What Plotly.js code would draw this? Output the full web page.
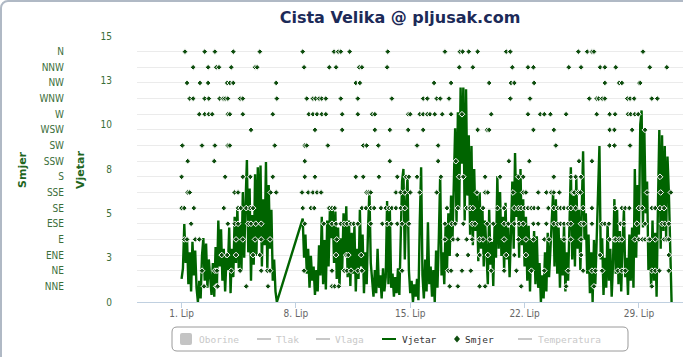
<!DOCTYPE html>
<html><head><meta charset="utf-8">
<script src="https://cdn.plot.ly/plotly-3.0.1.min.js"></script>
<style>
html,body{margin:0;padding:0;background:#fff;overflow:hidden}
#wrap{position:relative;width:683px;height:357px;overflow:hidden}
#chart{width:683px;height:357px}
#frame{position:absolute;left:0;top:0;width:720px;height:380px;border:2px solid #b0b9c5;border-radius:8px;box-sizing:border-box;pointer-events:none}
</style></head><body>
<div id="wrap"><div id="chart"></div><div id="frame"></div></div>
<script>
// ---- data ----
const monthStart = Date.UTC(2013, 5, 1);   // 1. lipanj 00:00
const stepHours = 2;
const windAStartHour = 0;     // 1. Lip 00:00
const windBStartHour = 178;   // 8. Lip 10:00

const windA = [1.3,1.9,4.4,2.2,3.6,1.0,2.8,0.6,3.4,1.5,
  2.9,0.8,0.0,1.2,0.2,2.6,3.6,1.2,3.3,0.8,
  2.4,1.6,0.4,2.2,0.3,3.1,1.0,4.6,2.0,4.1,
  1.2,3.0,0.6,2.5,1.8,4.2,0.5,3.0,1.4,4.8,
  2.2,5.3,1.9,4.5,1.8,6.2,2.5,5.6,8.0,2.8,
  6.4,1.2,4.9,2.1,7.2,2.6,7.6,3.5,7.7,2.0,
  5.8,3.2,7.9,1.8,6.6,3.0,5.2,1.2,2.4,0.6,0.0];

const windB = [4.7,2.5,3.8,1.6,3.0,0.8,2.6,1.2,2.0,0.4,1.8,0.6,3.2,
  1.5,4.8,1.0,3.5,0.7,4.6,2.0,5.3,3.6,5.4,2.2,5.1,1.3,4.2,0.8,3.6,1.8,5.0,2.6,5.4,1.4,4.6,0.9,3.9,
  1.6,4.3,0.6,3.0,1.3,5.2,2.0,3.8,0.5,2.8,1.0,4.1,6.3,2.2,
  1.2,0.3,1.8,0.5,3.0,0.8,1.5,0.2,1.9,0.6,1.4,
  5.7,1.0,5.3,0.8,1.6,0.3,1.4,0.5,1.9,0.4,
  3.0,6.8,7.5,2.4,5.5,7.1,1.8,0.5,
  1.2,0.0,1.0,0.3,1.3,0.1,4.5,7.6,
  1.5,0.2,2.4,0.6,4.5,1.0,2.0,
  0.3,1.8,0.0,2.9,0.8,3.6,7.1,1.5,2.8,
  1.0,4.4,1.8,5.0,2.6,6.0,3.4,
  6.6,9.8,4.5,10.7,5.2,12.1,7.8,12.1,
  4.6,12.0,6.0,9.4,3.8,
  8.8,3.2,7.5,4.0,6.0,
  2.3,6.2,3.0,5.4,2.0,4.6,2.8,
  1.0,5.2,2.1,3.4,0.9,4.5,2.5,7.1,3.0,6.2,2.6,
  4.8,1.8,5.6,2.4,4.2,1.4,3.9,
  6.8,3.0,8.4,4.8,7.2,
  2.5,7.5,3.2,5.8,2.0,
  4.8,1.2,4.3,0.6,3.6,1.8,4.0,
  1.0,3.7,0.8,2.2,0.0,1.5,0.2,
  2.8,0.6,3.9,1.4,3.0,
  4.4,6.2,2.0,5.8,1.6,
  4.2,0.8,3.6,1.5,4.4,0.6,2.8,1.2,
  5.2,7.6,2.4,
  6.0,2.0,7.1,3.0,5.2,1.8,
  5.8,8.5,3.5,
  5.0,1.6,3.8,0.5,2.8,0.0,3.5,1.0,3.2,6.0,8.8,2.4,
  3.6,0.4,2.5,0.8,4.5,1.2,3.0,0.3,2.2,5.8,1.6,5.2,
  1.0,4.0,0.6,3.3,5.2,1.4,2.5,0.4,3.8,1.2,4.2,0.8,
  7.5,2.5,6.6,3.8,10.0,10.8,4.2,9.7,5.0,6.8,1.8,3.5,
  0.8,4.6,1.2,3.9,0.3,
  5.5,9.7,3.0,9.4,4.0,8.8,3.6,8.2,6.2,
  2.0,0.0];

// wind direction readings: hours since 1. Lip 00:00, grouped by direction
const smjerNNE = [33,51,53,95,127,221,225,231,394,406,438,446,499,565,606,691];
const smjerNE  = [30,49,52,73,86,117,126,130,180,221,239,243,249,259,265,324,392,396,412,425,455,474,492,514,533,568,590,603,608,618,641,647,652,691,696,702,716];
const smjerENE = [59,67,80,105,115,227,242,245,264,405,421,438,450,477,489,506,587,615,716];
const smjerE   = [4,8,20,26,80,90,108,117,130,228,387,399,406,419,427,438,443,453,474,495,506,517,533,540,562,572,587,629,636,638,643,647,666,672,677,681,686,688,696,709,713,716];
const smjerESE = [14,68,78,83,98,102,109,117,181,209,221,227,234,239,243,249,253,259,278,295,302,308,317,324,334,387,397,402,414,427,431,449,458,474,480,489,496,502,517,524,536,547,553,557,562,568,572,587,591,603,618,622,628,645,650,669,681,706,710,716];
const smjerSE  = [0,4,18,62,83,87,95,101,105,178,190,195,217,221,225,265,271,278,283,293,300,305,309,315,322,328,390,406,419,424,428,443,464,474,489,495,499,504,509,514,518,524,539,547,553,557,562,568,572,579,590,603,637,647,652,658,672,677,691,696,703,709];
const smjerSSE = [9,12,78,83,131,139,177,186,193,199,205,272,275,278,315,322,328,336,350,375,434,446,450,487,502,506,524,536,543,547,555,575,577,583,586,684,704,719];
const smjerS   = [0,64,90,101,134,181,196,256,267,290,317,330,334,346,381,408,414,446,468,495,502,546,547,572,579,587,703];
const smjerSSW = [9,48,181,306,377,403,481,511,584,603];
const smjerSW  = [1,30,49,68,71,137,181,184,215,267,272,289,346,377,550,629,636,659];
const smjerWSW = [102,196,236,284,306,333,355,435,449,452,517,547,629,636,662,681];
const smjerW   = [26,34,40,45,68,71,90,134,187,193,199,206,212,236,259,280,284,333,336,350,355,361,365,372,383,396,412,455,509,527,533,542,565,610,629,637,656,660,666,671];
const smjerWNW = [12,17,34,40,56,61,64,68,86,90,140,184,193,197,202,206,212,234,259,309,355,361,375,380,393,483,512,599,610,613,618,622,655,659,665,691,699];
const smjerNW  = [8,27,39,67,71,76,139,256,262,371,396,452,484,489,518,622,643,647,672,674];
const smjerNNW = [17,39,51,55,73,108,111,180,217,227,261,265,302,408,428,486,509,517,569,587,615,622,638,688,713];
const smjerN   = [5,34,49,76,115,178,224,230,234,247,303,387,409,413,422,435,477,483,583,596,603,606,678];

const dirLabels = ['NNE','NE','ENE','E','ESE','SE','SSE','S','SSW','SW','WSW','W','WNW','NW','NNW','N'];
const dirDegrees = [22.5,45,67.5,90,112.5,135,157.5,180,202.5,225,247.5,270,292.5,315,337.5,360];
const dirGroups = [smjerNNE,smjerNE,smjerENE,smjerE,smjerESE,smjerSE,smjerSSE,smjerS,smjerSSW,smjerSW,smjerWSW,smjerW,smjerWNW,smjerNW,smjerNNW,smjerN];

const windTickVals = [0,2.5,5,7.5,10,12.5,15];
const windTickText = ['0','3','5','8','10','13','15'];
const dateTickDays = [1,8,15,22,29];
const dateTickText = ['1. Lip','8. Lip','15. Lip','22. Lip','29. Lip'];
const legendNames = ['Oborine','Tlak','Vlaga','Vjetar','Smjer','Temperatura'];

// ---- build ----
const H = 3600e3;
const windX = [], windY = [];
windA.forEach((v,i)=>{ windX.push(monthStart + (windAStartHour + i*stepHours)*H); windY.push(v); });
windB.forEach((v,i)=>{ windX.push(monthStart + (windBStartHour + i*stepHours)*H); windY.push(v); });

const dirX = [], dirY = [];
dirGroups.forEach((arr,k)=>arr.forEach(h=>{ dirX.push(monthStart + h*H); dirY.push(dirDegrees[k]); }));

const green = '#006400';
const traces = [
  {type:'scatter', mode:'lines', x:windX, y:windY, yaxis:'y', name:'Vjetar',
   line:{color:green, width:2.4}, hoverinfo:'skip', showlegend:false},
  {type:'scatter', mode:'markers', x:dirX, y:dirY, yaxis:'y2', name:'Smjer',
   marker:{symbol:'diamond', size:4.4, color:'#0e4d0e', line:{color:'#ffffff', width:1}},
   hoverinfo:'skip', showlegend:false}
];

// pixel -> paper helpers for the hand-drawn legend
const PL=137, PW=546, PB=302, PH=266;
const fx = p => (p-PL)/PW, fy = p => (PB-p)/PH;
function rr(x0,y0,x1,y1,r){
  return `M${fx(x0+r)},${fy(y0)} L${fx(x1-r)},${fy(y0)} Q${fx(x1)},${fy(y0)} ${fx(x1)},${fy(y0+r)} `+
    `L${fx(x1)},${fy(y1-r)} Q${fx(x1)},${fy(y1)} ${fx(x1-r)},${fy(y1)} L${fx(x0+r)},${fy(y1)} `+
    `Q${fx(x0)},${fy(y1)} ${fx(x0)},${fy(y1-r)} L${fx(x0)},${fy(y0+r)} Q${fx(x0)},${fy(y0)} ${fx(x0+r)},${fy(y0)} Z`;
}
const LY = 339;
const gray = '#c8c8c8';
const shapes = [
  {type:'path', xref:'paper', yref:'paper', path:rr(172,327,628,351,5), line:{color:'#9a9a9a', width:1}, fillcolor:'rgba(255,255,255,0)'},
  {type:'path', xref:'paper', yref:'paper', path:rr(180,333,192,345,2), line:{width:0}, fillcolor:'#c4c4c4'},
  {type:'line', xref:'paper', yref:'paper', x0:fx(257), x1:fx(271), y0:fy(LY), y1:fy(LY), line:{color:gray, width:2}},
  {type:'line', xref:'paper', yref:'paper', x0:fx(316), x1:fx(330), y0:fy(LY), y1:fy(LY), line:{color:gray, width:2}},
  {type:'line', xref:'paper', yref:'paper', x0:fx(382), x1:fx(396), y0:fy(LY), y1:fy(LY), line:{color:green, width:2}},
  {type:'path', xref:'paper', yref:'paper', path:`M${fx(457)},${fy(335.5)} L${fx(460)},${fy(LY)} L${fx(457)},${fy(342.5)} L${fx(454)},${fy(LY)} Z`, line:{width:0}, fillcolor:'#0e4d0e'},
  {type:'line', xref:'paper', yref:'paper', x0:fx(518), x1:fx(532), y0:fy(LY), y1:fy(LY), line:{color:gray, width:2}}
];
const legTextX = [197,274,333,400,463,536];
const legActive = [false,false,false,true,true,false];
const annotations = legendNames.map((n,i)=>({
  text:n, xref:'paper', yref:'paper', x:fx(legTextX[i]), y:fy(LY), xanchor:'left', yanchor:'middle',
  showarrow:false, font:{family:'DejaVu Sans Mono, monospace', size:9.5, color: legActive[i] ? '#333333' : gray}
}));
annotations.push({text:'<b>Smjer</b>', xref:'paper', yref:'paper', x:fx(22), y:fy(170), textangle:-90,
  showarrow:false, xanchor:'center', yanchor:'middle', font:{family:'DejaVu Sans', size:11, color:'#1f661f'}});
annotations.push({text:'<b>Vjetar</b>', xref:'paper', yref:'paper', x:fx(80), y:fy(170), textangle:-90,
  showarrow:false, xanchor:'center', yanchor:'middle', font:{family:'DejaVu Sans', size:11, color:'#1f661f'}});

const tickFont = {family:'DejaVu Sans Condensed, DejaVu Sans', size:10, color:'#3a6e3a'};
const layout = {
  width:683, height:357,
  margin:{l:137, r:0, t:36, b:55, pad:0},
  paper_bgcolor:'#ffffff', plot_bgcolor:'#ffffff',
  showlegend:false,
  title:{text:'<b>Cista Velika @ pljusak.com</b>', xref:'container', yref:'container',
    x:400/683, xanchor:'center', y:1-17/357, yanchor:'middle',
    font:{family:'DejaVu Sans', size:16, color:'#1c2a58'}},
  xaxis:{type:'date', range:[monthStart-65.5*H, monthStart+736.8*H],
    tickvals:dateTickDays.map(d=>monthStart+(d-1)*24*H), ticktext:dateTickText,
    showgrid:false, zeroline:false, showline:true, linecolor:'#c0d0e0', linewidth:1,
    ticks:'outside', ticklen:5, tickcolor:'#c0d0e0', ticklabelstandoff:-3,
    tickfont:{family:'DejaVu Sans Condensed, DejaVu Sans', size:10, color:'#666666'}, fixedrange:true},
  yaxis:{range:[0,15], tickvals:windTickVals, ticktext:windTickText, showgrid:false, zeroline:false,
    ticks:'', ticklabelstandoff:24, tickfont:tickFont, fixedrange:true},
  yaxis2:{overlaying:'y', side:'left', anchor:'x', range:[0,382.5],
    tickvals:dirDegrees.concat([382.5]), ticktext:dirLabels.concat(['']),
    showgrid:true, gridcolor:'#ebebeb', gridwidth:1, zeroline:false,
    ticks:'', ticklabelstandoff:72, tickfont:tickFont, fixedrange:true},
  shapes:shapes, annotations:annotations
};
Plotly.newPlot('chart', traces, layout, {displayModeBar:false, staticPlot:true});
</script></body></html>
